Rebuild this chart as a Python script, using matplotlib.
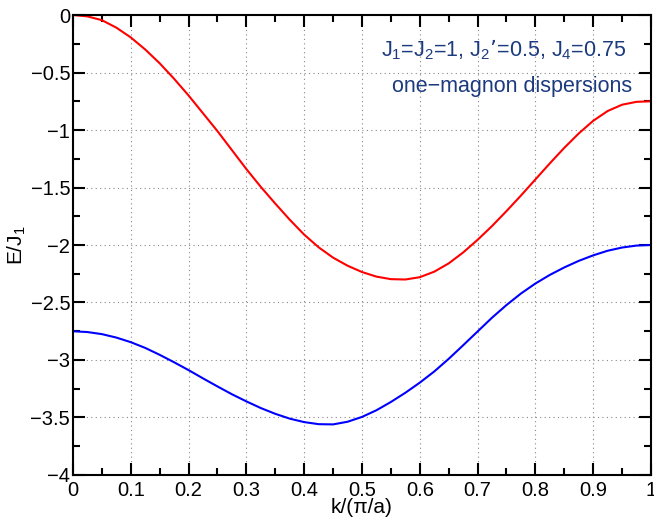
import matplotlib
matplotlib.use("Agg")
import matplotlib.pyplot as plt
from matplotlib.ticker import MultipleLocator

plt.rcParams['font.family'] = ['Liberation Sans', 'DejaVu Sans']
plt.rcParams['mathtext.default'] = 'regular'
plt.rcParams['font.size'] = 14.5

# wave vector k/(pi/a)
k = [0.0, 0.025, 0.05, 0.075, 0.1, 0.125, 0.15, 0.175, 0.2, 0.225,
     0.25, 0.275, 0.3, 0.325, 0.35, 0.375, 0.4, 0.425, 0.45, 0.475,
     0.5, 0.525, 0.55, 0.575, 0.6, 0.625, 0.65, 0.675, 0.7, 0.725,
     0.75, 0.775, 0.8, 0.825, 0.85, 0.875, 0.9, 0.925, 0.95, 0.975, 1.0]

# upper branch (red)
e_upper = [0.0, -0.012, -0.045, -0.11, -0.195, -0.30, -0.42, -0.555, -0.70, -0.855,
           -1.01, -1.175, -1.34, -1.495, -1.64, -1.78, -1.91, -2.02, -2.11, -2.18,
           -2.235, -2.275, -2.297, -2.30, -2.28, -2.232, -2.16, -2.065, -1.955, -1.835,
           -1.705, -1.57, -1.43, -1.29, -1.155, -1.03, -0.92, -0.835, -0.78, -0.755, -0.75]

# lower branch (blue)
e_lower = [-2.75, -2.757, -2.775, -2.805, -2.845, -2.895, -2.955, -3.02, -3.088, -3.16,
           -3.23, -3.298, -3.36, -3.418, -3.468, -3.51, -3.54, -3.558, -3.56, -3.537,
           -3.495, -3.437, -3.365, -3.285, -3.197, -3.1, -2.99, -2.872, -2.752, -2.632,
           -2.522, -2.422, -2.335, -2.26, -2.195, -2.138, -2.09, -2.05, -2.022, -2.005, -2.0]

fig = plt.figure(figsize=(6.54, 5.21), dpi=100)
ax = fig.add_axes([0.1116, 0.0883, 0.8838, 0.8829])

ax.plot(k, e_upper, color='red', lw=1.5, solid_joinstyle='round')
ax.plot(k, e_lower, color='blue', lw=1.5, solid_joinstyle='round')

ax.set_xlim(0, 1)
ax.set_ylim(-4, 0)
ax.xaxis.set_major_locator(MultipleLocator(0.1))
ax.xaxis.set_minor_locator(MultipleLocator(0.05))
ax.yaxis.set_major_locator(MultipleLocator(0.5))
ax.yaxis.set_minor_locator(MultipleLocator(0.25))
ax.xaxis.set_major_formatter(plt.FuncFormatter(lambda v, p: '%g' % round(v, 2)))
ax.yaxis.set_major_formatter(plt.FuncFormatter(lambda v, p: ('%g' % round(v, 2)).replace('-', '\u2212')))

ax.tick_params(which='both', direction='in', top=True, right=True, width=1.5)
ax.tick_params(which='major', length=8.5)
ax.tick_params(which='minor', length=5)
ax.tick_params(axis='x', pad=4)
ax.tick_params(axis='y', pad=2)
for s in ax.spines.values():
    s.set_linewidth(1.5)

ax.grid(True, which='major', linestyle=(0, (1, 3)), color='#888888', lw=0.8)

ax.set_xlabel('k/(\u03c0/a)', fontsize=15, labelpad=-1)
ax.set_ylabel('E/J$_1$', fontsize=15, labelpad=2)

ax.text(0.958, 0.909, 'J$_1$=J$_2$=1, J$_2$\u2019=0.5, J$_4$=0.75',
        transform=ax.transAxes, ha='right', va='baseline', color='#1c3a7e', fontsize=15.5)
ax.text(0.967, 0.833, 'one\u2212magnon dispersions',
        transform=ax.transAxes, ha='right', va='baseline', color='#1c3a7e', fontsize=15.5)

fig.savefig('out.png', dpi=100)
